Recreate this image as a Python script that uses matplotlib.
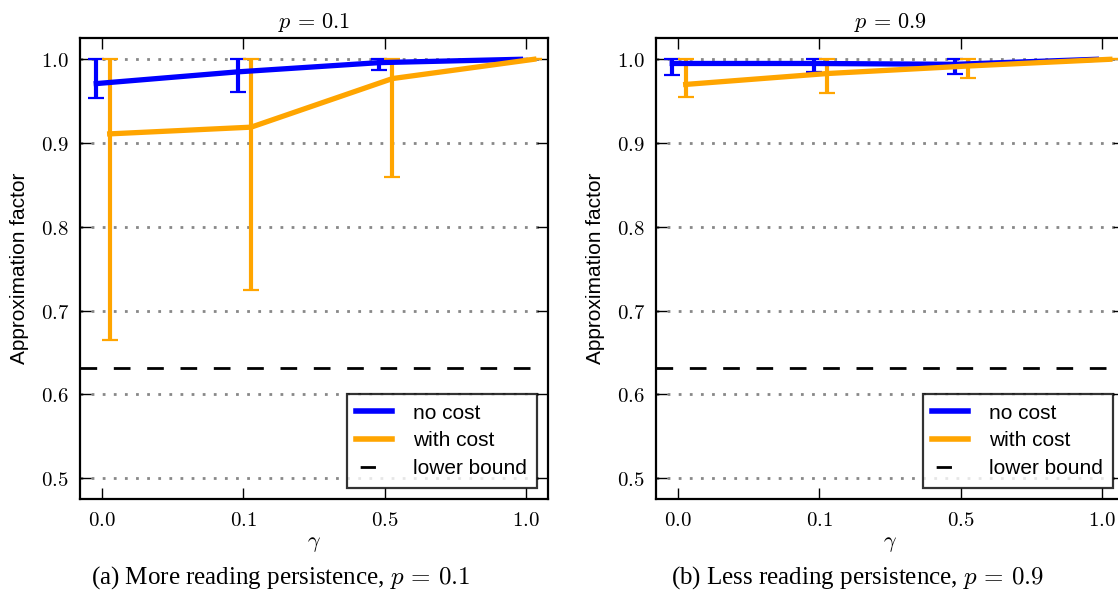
import matplotlib
matplotlib.use("Agg")
import matplotlib.pyplot as plt
from matplotlib.lines import Line2D
import numpy as np

plt.rcParams["mathtext.fontset"] = "cm"

# gamma settings (categorical x positions)
gamma_labels = ["0.0", "0.1", "0.5", "1.0"]

# p = 0.1
p01_nocost = [0.971, 0.985, 0.996, 1.000]
p01_nocost_low = [0.954, 0.961, 0.987, 1.000]
p01_nocost_high = [1.000, 1.000, 1.000, 1.000]
p01_cost = [0.911, 0.919, 0.977, 1.000]
p01_cost_low = [0.665, 0.725, 0.860, 1.000]
p01_cost_high = [1.000, 1.000, 1.000, 1.000]

# p = 0.9
p09_nocost = [0.995, 0.995, 0.994, 1.000]
p09_nocost_low = [0.981, 0.985, 0.982, 1.000]
p09_nocost_high = [1.000, 1.000, 1.000, 1.000]
p09_cost = [0.970, 0.983, 0.992, 1.000]
p09_cost_low = [0.955, 0.960, 0.978, 1.000]
p09_cost_high = [1.000, 1.000, 1.000, 1.000]

lower_bound = 1 - 1 / np.e
y_ticks = [0.5, 0.6, 0.7, 0.8, 0.9, 1.0]

BLUE = "#0000ff"
ORANGE = "#ffa500"

fig = plt.figure(figsize=(11.18, 5.99), dpi=100)
W, H = 1118, 599


def panel(left_px, title, nc, nc_lo, nc_hi, wc, wc_lo, wc_hi):
    ax = fig.add_axes([left_px / W, (H - 499) / H, 468 / W, 461 / H])
    x = np.arange(len(gamma_labels))
    for vals, lo, hi, col, off in [
        (nc, nc_lo, nc_hi, BLUE, -0.04),
        (wc, wc_lo, wc_hi, ORANGE, 0.055),
    ]:
        vals = np.array(vals)
        err = np.vstack([vals - np.array(lo), np.array(hi) - vals])
        ax.errorbar(x + off, vals, yerr=err, color=col, lw=3.8, elinewidth=3,
                    capsize=6, capthick=1.6)
    ax.axhline(lower_bound, color="black", lw=2, dashes=(6, 6))
    ax.set_xlim(-0.155, 3.155)
    ax.set_ylim(0.4753, 1.0254)
    ax.set_xticks(x)
    ax.set_xticklabels([r"$%s$" % g for g in gamma_labels], fontsize=15)
    ax.set_yticks(y_ticks)
    ax.set_yticklabels([r"$%.1f$" % v for v in y_ticks], fontsize=15)
    for v in y_ticks:
        ax.axhline(v, color="#888888", lw=2, dashes=(1, 3), zorder=0)
    ax.tick_params(direction="in", length=8, width=1, top=True, right=True,
                   pad=8)
    for s in ax.spines.values():
        s.set_linewidth(1.6)
    ax.set_title(title, fontsize=16, pad=7)
    ax.set_xlabel(r"$\gamma$", fontsize=16, labelpad=3)
    ax.set_ylabel("Approximation factor", fontsize=15, family="Liberation Sans",
                  labelpad=8)
    handles = [
        Line2D([], [], color=BLUE, lw=4),
        Line2D([], [], color=ORANGE, lw=4),
        Line2D([], [], color="black", lw=2, dashes=(0, 1.5, 5.5, 20)),
    ]
    leg = ax.legend(handles, ["no cost", "with cost", "lower bound"],
                    loc="lower right", frameon=True, fancybox=False,
                    borderaxespad=0.55, handlelength=1.75, labelspacing=0.42,
                    handletextpad=1.0, borderpad=0.45,
                    prop={"family": "Liberation Sans", "size": 15})
    leg.get_frame().set_edgecolor("black")
    leg.get_frame().set_linewidth(1.6)
    return ax


panel(80, r"$p\,=\,0.1$", p01_nocost, p01_nocost_low, p01_nocost_high,
      p01_cost, p01_cost_low, p01_cost_high)
panel(656, r"$p\,=\,0.9$", p09_nocost, p09_nocost_low, p09_nocost_high,
      p09_cost, p09_cost_low, p09_cost_high)

fig.text(281 / W, 1 - 578 / H, r"(a) More reading persistence, $p\,=\,0.1$",
         ha="center", va="center", fontsize=18, family="Liberation Serif")
fig.text(858 / W, 1 - 578 / H, r"(b) Less reading persistence, $p\,=\,0.9$",
         ha="center", va="center", fontsize=18, family="Liberation Serif")

fig.savefig("out.png", dpi=100)
